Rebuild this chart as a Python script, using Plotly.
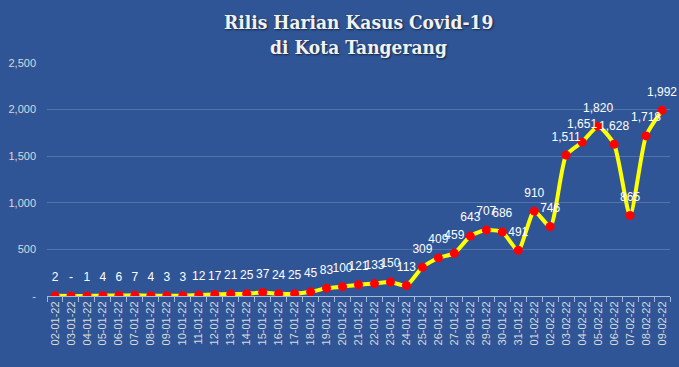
import plotly.graph_objects as go

dates = ["02-01-22","03-01-22","04-01-22","05-01-22","06-01-22","07-01-22","08-01-22","09-01-22","10-01-22","11-01-22",
         "12-01-22","13-01-22","14-01-22","15-01-22","16-01-22","17-01-22","18-01-22","19-01-22","20-01-22","21-01-22",
         "22-01-22","23-01-22","24-01-22","25-01-22","26-01-22","27-01-22","28-01-22","29-01-22","30-01-22","31-01-22",
         "01-02-22","02-02-22","03-02-22","04-02-22","05-02-22","06-02-22","07-02-22","08-02-22","09-02-22"]
cases = [2, 0, 1, 4, 6, 7, 4, 3, 3, 12,
         17, 21, 25, 37, 24, 25, 45, 83, 100, 121,
         133, 150, 113, 309, 409, 459, 643, 707, 686, 491,
         910, 746, 1511, 1651, 1820, 1628, 865, 1718, 1992]
y_ticks = [0, 500, 1000, 1500, 2000, 2500]
title_lines = ["Rilis Harian Kasus Covid-19", "di Kota Tangerang"]

labels = ["-" if v == 0 else f"{v:,}" for v in cases]
y_tick_text = ["-" if v == 0 else f"{v:,}" for v in y_ticks]

BG = "#2F5597"
W, H = 679, 367
M_T, M_B = 63, 71

fig = go.Figure()
fig.add_trace(go.Scatter(
    x=dates, y=cases, mode="lines+markers",
    line=dict(color="#FFFF00", width=4, shape="spline", smoothing=0.6),
    marker=dict(color="#FF0000", size=9),
    showlegend=False, hoverinfo="x+y",
))
fig.add_trace(go.Scatter(
    x=dates, y=cases, mode="markers+text",
    marker=dict(size=17, opacity=0),
    text=labels, textposition="top center",
    textfont=dict(color="white", size=12, family="Liberation Sans Narrow, Liberation Sans"),
    cliponaxis=False, showlegend=False, hoverinfo="skip",
))

title_font = dict(family="DejaVu Serif Condensed, Liberation Serif, serif", size=19, color="#F2F2F2",
                  shadow="1px 1px 2px rgba(0,0,0,0.6)")
plot_h = H - M_T - M_B
for line_text, ypix in zip(title_lines, [22, 47]):
    fig.add_annotation(
        text=f"<b>{line_text}</b>", xref="paper", yref="paper",
        x=0.5, y=(H - M_B - ypix) / plot_h, yanchor="middle",
        showarrow=False, font=title_font,
    )

fig.update_layout(
    width=W, height=H,
    paper_bgcolor=BG, plot_bgcolor=BG,
    margin=dict(l=47, r=9, t=M_T, b=M_B, autoexpand=False),
    xaxis=dict(
        type="category", range=[-0.5, len(dates) - 0.5], automargin=False,
        tickangle=-90, tickfont=dict(color="#D9D9D9", size=11, family="Liberation Sans Narrow, Liberation Sans"),
        showline=True, linecolor="#A6B8D9", linewidth=1,
        ticks="outside", tickson="boundaries", ticklen=5, tickcolor="#A6B8D9",
        showgrid=False,
    ),
    yaxis=dict(
        range=[0, 2500], tickvals=y_ticks, ticktext=y_tick_text, automargin=False,
        tickfont=dict(color="#D9D9D9", size=11, family="Liberation Sans Narrow, Liberation Sans"),
        gridcolor="rgba(255,255,255,0.18)", gridwidth=1,
        zeroline=False, showline=False, ticks="", ticklabelstandoff=10,
    ),
)

fig.write_html("out.html", config={"displayModeBar": False},
               post_script="document.body.style.margin='0';")
